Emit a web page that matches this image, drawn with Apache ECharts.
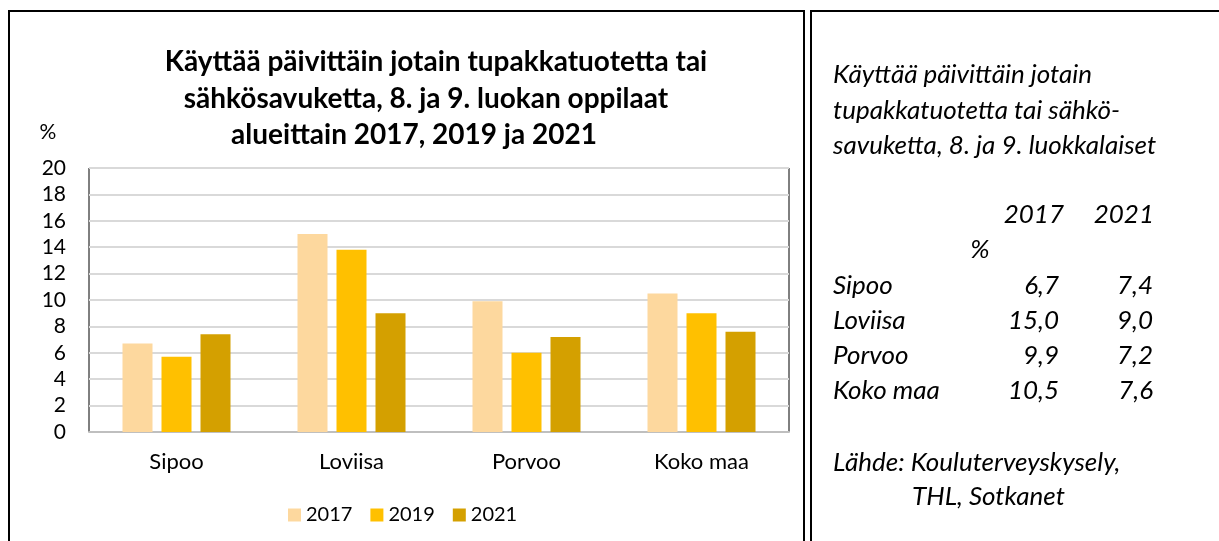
<!DOCTYPE html>
<html>
<head>
<meta charset="utf-8">
<script src="https://cdn.jsdelivr.net/npm/echarts@6/dist/echarts.min.js"></script>
<style>
  html, body { margin: 0; padding: 0; background: #fff; }
  #main { width: 1219px; height: 541px; }
</style>
</head>
<body>
<div id="main"></div>
<script>
// data
const categories = ['Sipoo', 'Loviisa', 'Porvoo', 'Koko maa'];
const years = ['2017', '2019', '2021'];
const y2017 = [6.7, 15.0, 9.9, 10.5];
const y2019 = [5.7, 13.8, 6.0, 9.0];
const y2021 = [7.4, 9.0, 7.2, 7.6];
const colors = ['#FDD89E', '#FFC000', '#D4A000'];

const titleLines = [
    'Käyttää päivittäin jotain tupakkatuotetta tai',
    'sähkösavuketta, 8. ja 9. luokan oppilaat',
    'alueittain 2017, 2019 ja 2021'
];
const sideTitle = [
    'Käyttää päivittäin jotain',
    'tupakkatuotetta tai sähkö-',
    'savuketta, 8. ja 9. luokkalaiset'
];
const source = ['Lähde: Kouluterveyskysely,', 'THL, Sotkanet'];

const myChart = echarts.init(document.getElementById('main'));
const FONT = 'Lato';
const SIDE_FONT = 'italic 26px ' + FONT;

function fmt(v) {
    return v.toFixed(1).replace('.', ',');
}

function txt(x, y, text, font, align) {
    return {
        type: 'text', x: x, y: y,
        style: { text: text, font: font, fill: '#000', align: align || 'left', verticalAlign: 'middle' }
    };
}

// title, % label and the text box on the right
const side = [];
const tc = [62, 99, 135];
const tx = [436, 426, 414];
titleLines.forEach(function (t, i) {
    side.push(txt(tx[i], tc[i], t, 'bold 28px ' + FONT, 'center'));
});
side.push(txt(48, 132, '%', '21px ' + FONT, 'center'));

const sy = [75, 111, 146];
sideTitle.forEach(function (t, i) {
    side.push(txt(833, sy[i], t, SIDE_FONT));
});
side.push(txt(1064, 215, '2017', SIDE_FONT, 'right'));
side.push(txt(1154, 215, '2021', SIDE_FONT, 'right'));
side.push(txt(980, 250, '%', SIDE_FONT, 'center'));
const rowY = [286, 321, 356, 391];
categories.forEach(function (c, i) {
    side.push(txt(833, rowY[i], c, SIDE_FONT));
    side.push(txt(1059, rowY[i], fmt(y2017[i]), SIDE_FONT, 'right'));
    side.push(txt(1153, rowY[i], fmt(y2021[i]), SIDE_FONT, 'right'));
});
side.push(txt(833, 463, source[0], SIDE_FONT));
side.push(txt(912, 497, source[1], SIDE_FONT));

// panel frames
side.push({ type: 'rect', shape: { x: 9, y: 11, width: 795, height: 560 }, style: { fill: 'none', stroke: '#000', lineWidth: 2 } });
side.push({ type: 'rect', shape: { x: 811, y: 11, width: 440, height: 560 }, style: { fill: 'none', stroke: '#000', lineWidth: 2 } });

const option = {
    animation: false,
    textStyle: { fontFamily: FONT },
    grid: {
        left: 89, right: 430, top: 168, bottom: 109,
        show: true, borderColor: '#000', borderWidth: 1, backgroundColor: '#fff'
    },
    legend: {
        data: years,
        left: 283, top: 500,
        icon: 'rect', itemWidth: 13, itemHeight: 13, itemGap: 18,
        textStyle: { fontSize: 20, color: '#000', fontFamily: FONT }
    },
    xAxis: {
        type: 'category',
        data: categories,
        axisTick: { show: false },
        axisLine: { lineStyle: { color: '#bfbfbf', width: 2 } },
        axisLabel: { fontSize: 22, color: '#000', margin: 19, fontFamily: FONT }
    },
    yAxis: {
        type: 'value',
        min: 0, max: 20, interval: 2,
        axisLine: { show: false },
        axisTick: { show: false },
        axisLabel: { fontSize: 21, color: '#000', margin: 23, fontFamily: FONT },
        splitLine: { lineStyle: { color: '#d9d9d9', width: 2 } }
    },
    series: [
        { name: years[0], type: 'bar', data: y2017, barWidth: 30, barGap: '30%', itemStyle: { color: colors[0] } },
        { name: years[1], type: 'bar', data: y2019, barWidth: 30, barGap: '30%', itemStyle: { color: colors[1] } },
        { name: years[2], type: 'bar', data: y2021, barWidth: 30, barGap: '30%', itemStyle: { color: colors[2] } }
    ],
    graphic: side
};

myChart.setOption(option);
</script>
</body>
</html>
